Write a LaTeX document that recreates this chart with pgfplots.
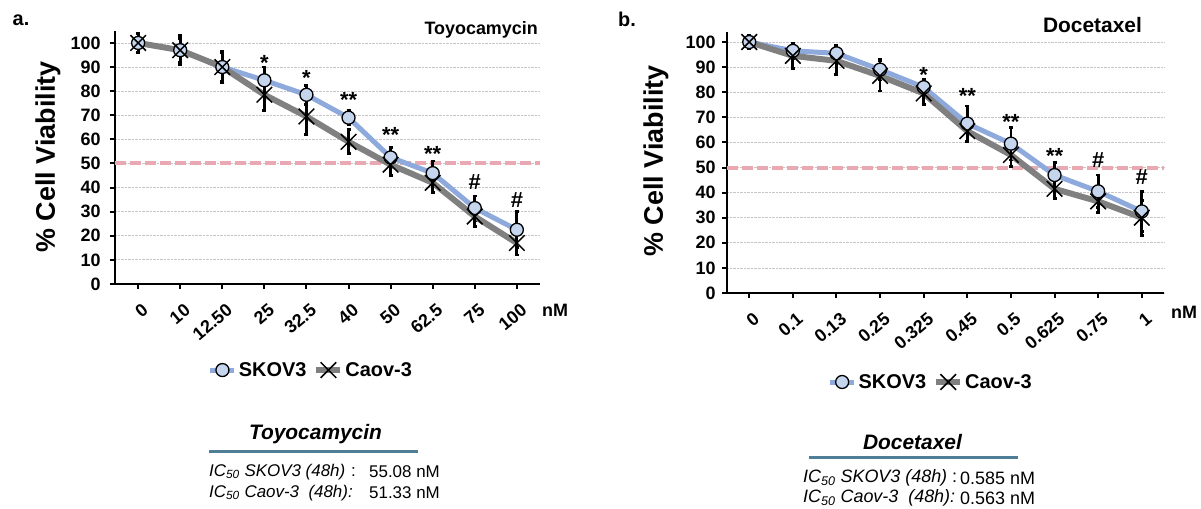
\documentclass[border=0pt]{standalone}
\usepackage{fontspec}
\setmainfont{Liberation Sans}
\usepackage{pgfplots}
\usepackage{pgfplotstable}
\pgfplotsset{compat=1.18}

\definecolor{skblue}{HTML}{8EA9DB}
\definecolor{skfill}{HTML}{C5D5EE}
\definecolor{cvgray}{HTML}{808080}
\definecolor{redline}{HTML}{E8A9B2}
\definecolor{ulblue}{HTML}{4E7F96}

\newcommand{\fs}[1]{\fontsize{#1}{#1}\selectfont}

\pgfplotstableread{
x s se c ce
0 100 4 100 4
1 97 5 97 6
2 90 6 90 6.5
3 84.5 5.5 78.5 6.5
4 78.5 4 69.5 7.5
5 69 3 59 5
6 52.5 4 49.5 4.5
7 46 5 42 4
8 31.5 5 28 4
9 22.5 7.5 17 5
}\dataA

\pgfplotstableread{
x s se c ce
0 100 2 100 2.5
1 96.5 3 94.5 5
2 95.5 3 92.5 5.5
3 89 4 86.5 6
4 82 3 79.5 4.5
5 67.5 7 64.5 4
6 59.5 6.5 55 4.5
7 47 5 41.5 4
8 40.5 6.5 36.5 4.5
9 32.5 8 30 7
}\dataB

\pgfplotsset{
  via/.style={
    scale only axis, clip=false,
    ymin=0,
    axis lines=left, axis line style={line width=2.5bp, black, -},
    xtick={0,...,9}, ytick={0,10,...,100},
    ymajorgrids, grid style={densely dotted, black!22, line width=0.8bp},
    tick align=outside, major tick length=5bp,
    tick style={black, line width=2bp},
    /pgf/number format/assume math mode=true,
    yticklabel style={font=\bfseries\fs{18}},
    xticklabel style={font=\bfseries\fs{18}, rotate=40, anchor=east, xshift=-3bp, yshift=-19bp},
    legend style={draw=none, fill=none, font=\bfseries\fs{20},
      legend columns=2, anchor=center,
      /tikz/every even column/.append style={column sep=5bp}},
    legend image code/.code={\draw[mark repeat=2,mark phase=2,##1] plot coordinates {(0bp,0bp)(12bp,0bp)(24bp,0bp)};},
  },
  skov/.style={color=skblue, line width=5bp, mark=*, mark size=6.5bp,
    mark options={fill=skfill, draw=black, line width=1.3bp, solid},
    error bars/.cd, y dir=both, y explicit,
    error bar style={line width=2.8bp, black},
    error mark options={rotate=90, mark size=2bp, line width=2.8bp, black}},
  caov/.style={color=cvgray, line width=6bp, mark=x, mark size=11bp,
    mark options={draw=black, line width=1.5bp, solid},
    error bars/.cd, y dir=both, y explicit,
    error bar style={line width=2.8bp, black},
    error mark options={rotate=90, mark size=2bp, line width=2.8bp, black}},
  sig/.style={forget plot, draw=none, mark=none, nodes near coords,
    point meta=explicit symbolic, nodes near coords align={center},
    every node near coord/.append style={font=\bfseries\fs{22}, black, anchor=center}},
}

\begin{document}
\begin{tikzpicture}
\useasboundingbox (0,0) rectangle (1201bp,509bp);

% ---------------- panel a ----------------
\begin{axis}[via, at={(115bp,225bp)}, anchor=south west,
  width=425bp, height=253.1bp, xmin=-0.55, xmax=9.55, ymax=105,
  xticklabels={0,10,12.50,25,32.5,40,50,62.5,75,100},
  yticklabel style={xshift=-6bp},
  legend style={at={(0.461,-0.34)}}]
\addplot[forget plot, redline, dash pattern=on 11bp off 4bp, line width=4bp] coordinates {(-0.55,50) (9.55,50)};
\addplot[skov] table[x=x, y=s, y error=se] {\dataA};
\addplot[caov] table[x=x, y=c, y error=ce] {\dataA};
\addplot[sig] coordinates {(3,91.5)[*] (4,85.5)[*] (5,76.2)[**] (6,61.7)[**] (7,54.1)[**]};
\addplot[sig] coordinates {(8,42.4)[\#] (9,34.9)[\#]};
\legend{SKOV3, Caov-3}
\end{axis}

% ---------------- panel b ----------------
\begin{axis}[via, at={(727bp,216bp)}, anchor=south west,
  width=437bp, height=261bp, xmin=-0.51, xmax=9.51, ymax=104,
  xticklabels={0,0.1,0.13,0.25,0.325,0.45,0.5,0.625,0.75,1},
  yticklabel style={xshift=-3bp},
  legend style={at={(0.466,-0.341)}}]
\addplot[forget plot, redline, dash pattern=on 11bp off 4bp, line width=4bp] coordinates {(-0.51,50) (9.51,50)};
\addplot[skov] table[x=x, y=s, y error=se] {\dataB};
\addplot[caov] table[x=x, y=c, y error=ce] {\dataB};
\addplot[sig] coordinates {(4,86.7)[*] (5,78.7)[**] (6,68.1)[**] (7,54.8)[**]};
\addplot[sig] coordinates {(8,53)[\#] (9,46.3)[\#]};
\legend{SKOV3, Caov-3}
\end{axis}

% ---------------- texts ----------------
\node[font=\bfseries\fs{20}] at (21bp,489bp) {a.};
\node[font=\bfseries\fs{20}] at (627bp,490bp) {b.};
\node[font=\bfseries\fs{18}, anchor=east, inner sep=0] at (538bp,479bp) {Toyocamycin};
\node[font=\bfseries\fs{21}] at (1092.5bp,484bp) {Docetaxel};
\node[font=\bfseries\fs{27}, rotate=90] at (48bp,352bp) {\% Cell Viability};
\node[font=\bfseries\fs{27}, rotate=90] at (656bp,348bp) {\% Cell Viability};
\node[font=\bfseries\fs{18}, anchor=west, inner sep=0] at (542bp,199bp) {nM};
\node[font=\bfseries\fs{18}, anchor=west, inner sep=0] at (1171bp,197bp) {nM};

% bottom summary a
\node[font=\bfseries\itshape\fs{21}] at (315.5bp,75bp) {Toyocamycin};
\draw[ulblue, line width=3bp] (209bp,57bp) -- (418bp,57bp);
\node[font=\itshape\fs{17}, anchor=west, inner sep=0] at (209bp,37bp) {IC\textsubscript{50} SKOV3 (48h)};
\node[font=\fs{17}, anchor=west, inner sep=0] at (351bp,37bp) {:};
\node[font=\fs{17}, anchor=west, inner sep=0] at (369bp,37bp) {55.08 nM};
\node[font=\itshape\fs{17}, anchor=west, inner sep=0] at (209bp,16bp) {IC\textsubscript{50} Caov-3\ \ (48h):};
\node[font=\fs{17}, anchor=west, inner sep=0] at (369bp,16bp) {51.33 nM};

% bottom summary b
\node[font=\bfseries\itshape\fs{21}] at (912.5bp,67bp) {Docetaxel};
\draw[ulblue, line width=3bp] (809bp,51bp) -- (1018bp,51bp);
\node[font=\itshape\fs{18}, anchor=west, inner sep=0] at (803bp,31bp) {IC\textsubscript{50} SKOV3 (48h)};
\node[font=\fs{18}, anchor=west, inner sep=0] at (952bp,31bp) {:};
\node[font=\fs{18}, anchor=west, inner sep=0] at (960bp,31bp) {0.585 nM};
\node[font=\itshape\fs{18}, anchor=west, inner sep=0] at (803bp,11bp) {IC\textsubscript{50} Caov-3\ \ (48h):};
\node[font=\fs{18}, anchor=west, inner sep=0] at (960bp,11bp) {0.563 nM};
\end{tikzpicture}
\end{document}
